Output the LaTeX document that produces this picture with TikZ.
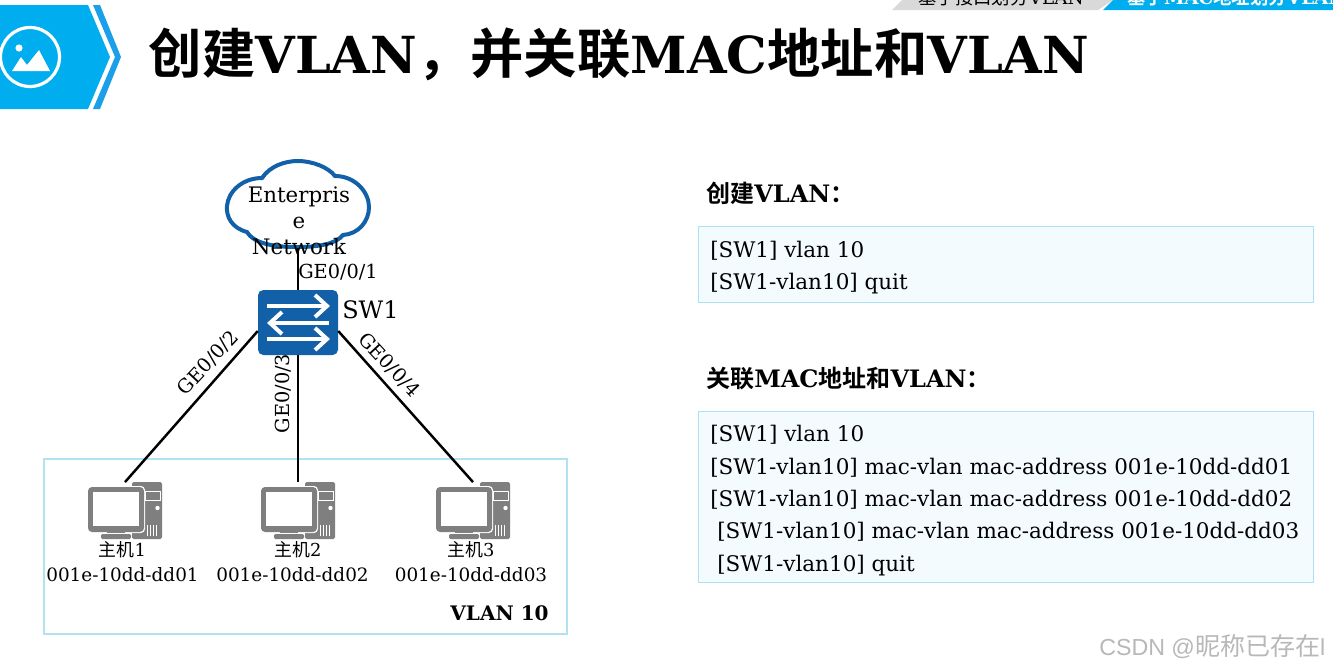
\documentclass[tikz,border=0pt]{standalone}
\usepackage{fontspec}
\setmainfont{DejaVu Serif}
\newfontfamily\cjk{Noto Sans CJK SC}
\newfontfamily\cjkb{Noto Sans CJK SC}[BoldFont={Noto Sans CJK SC Bold}]
\newfontfamily\wmfont{Liberation Sans}
\newcommand{\cn}[1]{{\cjk #1}}
\newcommand{\cb}[1]{{\cjkb\bfseries #1}}
\definecolor{hwblue}{HTML}{1260A8}
\definecolor{skyb}{HTML}{00AEEF}
\definecolor{skyc}{HTML}{1B9FE8}
\definecolor{pcgray}{HTML}{7F7F7F}
\definecolor{boxedge}{HTML}{A9E3F5}
\definecolor{boxfill}{HTML}{F3FBFE}
\definecolor{vlanedge}{HTML}{B0E2F2}
\definecolor{tabgray}{HTML}{D9D9D9}
\tikzset{
  link/.style={draw=black,line width=1.85pt},
  portlabel/.style={inner sep=0pt,font=\fontsize{14.5}{17}\selectfont},
  cfg/.style={anchor=base west,inner sep=0pt,font=\fontsize{16.12}{19}\selectfont},
  hosttxt/.style={inner sep=0pt,anchor=base,font=\fontsize{13.8}{16}\selectfont},
  hostcn/.style={inner sep=0pt,anchor=base,font=\fontsize{13.4}{16}\selectfont},
  head/.style={anchor=base west,inner sep=0pt,font=\fontsize{18}{21}\bfseries\selectfont},
  cfgbox/.style={draw=boxedge,fill=boxfill,line width=0.85pt,inner sep=0pt,anchor=north west},
  swarrow/.style={white,line width=3pt},
  hostpc/.pic={
    \fill[pcgray,rounded corners=1.2] (7,-29) rectangle (37,28);
    \draw[white,line width=0.7pt] (20,-20) rectangle (35,-11);
    \fill[white] (32.5,-3) circle (2.2);
    \foreach \k in {22,25,28,31}{\draw[white,line width=0.6pt] (\k,14) -- (\k,25);}
    \fill[white,rounded corners=3] (-38,-25) rectangle (20,22);
    \fill[pcgray,rounded corners=3] (-37,-24) rectangle (19,21);
    \fill[white] (-32,-19) rectangle (14,15);
    \fill[pcgray] (-18,21) rectangle (0,24);
    \fill[white] (-26,22) rectangle (7,23);
    \fill[pcgray,rounded corners=1] (-24,23) rectangle (6,28);
  }
}
\begin{document}
\begin{tikzpicture}[x=0.75pt,y=-0.75pt]
\useasboundingbox (0,0) rectangle (1333,668);
\clip (0,0) rectangle (1333,668);
\fill[white] (0,0) rectangle (1333,668);
% header icon
\fill[skyb] (0,5) -- (88,5) -- (110,57) -- (88,109) -- (0,109) -- cycle;
\fill[skyc] (93,5) -- (100,5) -- (121,57) -- (100,109) -- (93,109) -- (115,57) -- cycle;
\draw[white,line width=2.4pt] (30,57) circle (29.5);
\fill[white] (19,48) circle (3.6);
\fill[white] (12,71) -- (21,57) -- (27,65) -- (39,50) -- (50,71) -- cycle;
% tabs
\fill[tabgray] (892,10) -- (902,0) -- (1113,0) -- (1098,10) -- cycle;
\fill[skyb] (1103,10) -- (1113,0) -- (1333,0) -- (1333,10) -- cycle;
\node[anchor=base,inner sep=0pt,font=\fontsize{13.8}{16}\selectfont] (tabA) at (1001,4) {\cn{基于接口划分}VLAN};
\node[anchor=base west,inner sep=0pt,text=white,font=\fontsize{13.8}{16}\bfseries\selectfont] (tabB) at (1127,4) {\cb{基于}MAC\cb{地址划分}VLAN};
% title
\node[anchor=base west,inner sep=0pt,font=\fontsize{38.3}{48}\bfseries\selectfont] (title) at (148.5,73) {{\fontsize{40}{48}\selectfont\cb{创建}}VLAN{\fontsize{40}{48}\selectfont\cb{，并关联}}MAC{\fontsize{40}{48}\selectfont\cb{地址和}}VLAN};
% vlan box
\node[draw=vlanedge,line width=1.5pt,inner sep=0pt,anchor=north west,minimum width=392pt,minimum height=131pt] (vlan) at (43,458) {};
\node[anchor=base,inner sep=0pt,font=\fontsize{15}{18}\bfseries\selectfont] (vlanlbl) at (499.5,620) {VLAN 10};
% cloud
\node[inner sep=0pt,minimum width=105pt,minimum height=65pt] (cloud) at (298,204) {};
\draw[hwblue,line width=3pt,fill=white]
  (247,232)
  .. controls (232,228) and (226,217) .. (227,206)
  .. controls (228,192) and (242,178) .. (262,178)
  .. controls (270,166) and (285,161) .. (298,161)
  .. controls (312,161) and (328,167) .. (335,176)
  .. controls (355,176) and (369,192) .. (369,207)
  .. controls (369,222) and (358,234) .. (343,235)
  .. controls (336,244) and (318,247) .. (298,247)
  .. controls (278,247) and (255,245) .. (247,232) -- cycle;
\node[inner sep=0pt,align=center,font=\fontsize{16}{19.6}\selectfont] (cloudtxt) at (299,220.5) {Enterpris\\e\\Network};
% switch
\node[fill=hwblue,rounded corners=4pt,inner sep=0pt,minimum width=60pt,minimum height=48.75pt] (sw) at (298,322.5) {};
\draw[swarrow] (267,306) -- (326,306);
\draw[swarrow] (315,295) -- (327,306) -- (315,317);
\draw[swarrow] (270,323) -- (329,323);
\draw[swarrow] (282,312) -- (270,323) -- (282,334);
\draw[swarrow] (267,339) -- (326,339);
\draw[swarrow] (315,328) -- (327,339) -- (315,350);
\node[anchor=base west,inner sep=0pt,font=\fontsize{18}{22}\selectfont] (swlbl) at (342,318) {SW1};
% hosts
\foreach \n/\x in {hA/125,hB/298,hC/473}{
  \pic at (\x,511) {hostpc};
  \node[inner sep=0pt,minimum width=55pt,minimum height=43pt] (\n) at (\x,511) {};
}
\node[hostcn] (hAn) at (122.5,556) {\cn{主机}1};
\node[hostcn] (hBn) at (298,556) {\cn{主机}2};
\node[hostcn] (hCn) at (471,556) {\cn{主机}3};
\node[hosttxt] (hAm) at (122.5,581) {001e-10dd-dd01};
\node[hosttxt] (hBm) at (292.5,581) {001e-10dd-dd02};
\node[hosttxt] (hCm) at (471,581) {001e-10dd-dd03};
% links
\draw[link] (cloud.south) -- (sw.north);
\draw[link] (sw.192) -- (hA.north);
\draw[link] (sw.south) -- (hB.north);
\draw[link] (sw.-12) -- (hC.north);
\node[portlabel] (p1) at (338,272) {GE0/0/1};
\node[portlabel,rotate=47] (p2) at (208,363) {GE0/0/2};
\node[portlabel,rotate=90] (p3) at (283,393.5) {GE0/0/3};
\node[portlabel,rotate=-47] (p4) at (389,365) {GE0/0/4};
% right side
\node[head] (h1) at (706,202) {\cb{创建}VLAN\cb{：}};
\node[cfgbox,minimum width=461pt,minimum height=57pt] (b1) at (698,226) {};
\node[cfg] (l1) at (710,257) {[SW1] vlan 10};
\node[cfg] (l2) at (710,289) {[SW1-vlan10] quit};
\node[head] (h2) at (706,387) {\cb{关联}MAC\cb{地址和}VLAN\cb{：}};
\node[cfgbox,minimum width=461pt,minimum height=128pt] (b2) at (698,411) {};
\node[cfg] (m1) at (710,441.5) {[SW1] vlan 10};
\node[cfg] (m2) at (710,474) {[SW1-vlan10] mac-vlan mac-address 001e-10dd-dd01};
\node[cfg] (m3) at (710,506) {[SW1-vlan10] mac-vlan mac-address 001e-10dd-dd02};
\node[cfg] (m4) at (717,538) {[SW1-vlan10] mac-vlan mac-address 001e-10dd-dd03};
\node[cfg] (m5) at (717,571) {[SW1-vlan10] quit};
% watermark
\node[anchor=base west,inner sep=0pt,text=black!28,font=\fontsize{17.4}{20}\selectfont] (wm) at (1099,655) {\wmfont CSDN @{\fontsize{18.75}{20}\selectfont\cn{昵称已存在}}l};
\end{tikzpicture}
\end{document}
